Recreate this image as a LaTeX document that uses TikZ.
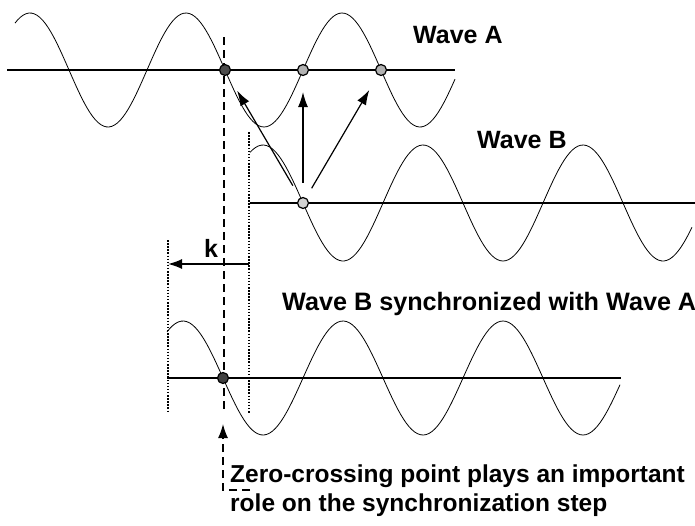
\documentclass[tikz,border=0pt]{standalone}
\usepackage{fontspec}
\setmainfont{Liberation Sans}
\usepackage{tikz}
\usetikzlibrary{arrows.meta}

\begin{document}
\begin{tikzpicture}[x=1pt, y=-1pt,
    wave/.style={line width=0.8pt},
    axisline/.style={line width=1.6pt},
    zdot/.style={circle, draw, line width=1.2pt, minimum size=11pt, inner sep=0pt},
    label/.style={font=\fontsize{25}{26}\selectfont\bfseries, anchor=base west, inner sep=0pt},
    marker/.style={line width=1.2pt, dash pattern=on 8pt off 5pt},
    bound/.style={line width=1.5pt, dash pattern=on 1.5pt off 1.6pt},
    pointer/.style={line width=1.2pt, -{Latex[length=15pt, width=10pt]}}]
    \useasboundingbox (0,0) rectangle (695,525);

    % Wave A
    \draw[axisline] (7,70) -- (455,70);
    \draw[wave] plot[domain=15:455, samples=160] (\x, {70 - 57*cos((360/156)*(\x-30))});
    \node[label] (wa) at (413,43) {Wave A};

    % Wave B
    \draw[axisline] (250,203) -- (695,203);
    \draw[wave] plot[domain=250:692, samples=160] (\x, {203 - 58*cos((360/160)*(\x-263))});
    \node[label] (wb) at (477,148) {Wave B};

    % Wave B synchronized with Wave A
    \draw[axisline] (167,378) -- (621,378);
    \draw[wave] plot[domain=167:620, samples=160] (\x, {378 - 57*cos((360/160)*(\x-183))});
    \node[label, font=\fontsize{25.2}{26}\selectfont\bfseries] (ws) at (282,310) {Wave B synchronized with Wave A};

    % shift k between the dotted bounds
    \coordinate (rtop) at (249,132);
    \coordinate (rbot) at (249,413);
    \coordinate (ltop) at (168,240);
    \coordinate (lbot) at (168,412);
    \draw[bound] (rtop) -- (rbot);
    \draw[bound] (ltop) -- (lbot);
    \coordinate (kr) at (249,264);
    \coordinate (kl) at (168,264);
    \draw[line width=1.6pt, -{Latex[length=14pt, width=10pt]}] (kr) -- (kl);
    \node[label, anchor=base] (k) at (211,257) {k};

    % zero-crossing marker
    \coordinate (dtop) at (224,37);
    \coordinate (dbot) at (224,412);
    \draw[marker] (dtop) -- (dbot);

    % Zero-crossing points
    \node[zdot, fill=black!70] (a1) at (225,70) {};
    \node[zdot, fill=gray!60] (a2) at (303,70) {};
    \node[zdot, fill=gray!60] (a3) at (381,70) {};
    \node[zdot, fill=gray!35] (b0) at (303,203) {};
    \node[zdot, fill=black!75] (s0) at (223,378) {};

    \draw[pointer, shorten >=18pt, shorten <=14pt] (b0) -- (a1);
    \draw[pointer, shorten >=16pt, shorten <=14pt] (b0) -- (a2);
    \draw[pointer, shorten >=17pt, shorten <=11pt] (b0) -- (a3);

    % Note
    \node[label, align=left, font=\fontsize{24.5}{29}\selectfont\bfseries] (note) at (230,511) {Zero-crossing point plays an important\\role on the synchronization step};
    \coordinate (nc) at (250,490);
    \draw[marker, -{Latex[length=14pt, width=10pt]}, shorten >=40pt] (nc) -| (s0);
\end{tikzpicture}
\end{document}
